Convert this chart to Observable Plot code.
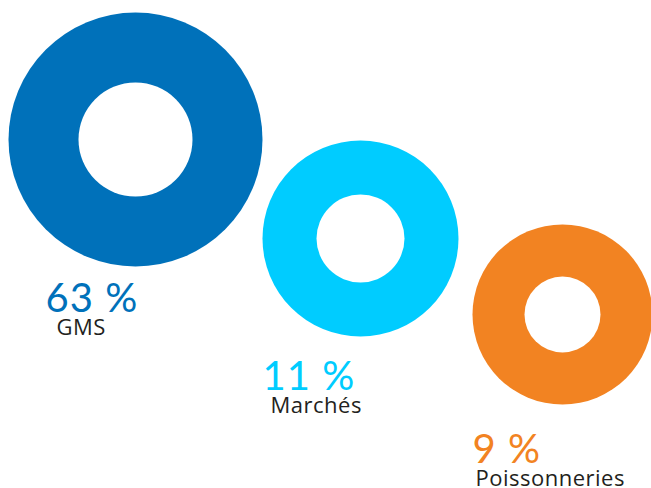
<!DOCTYPE html>
<html>
<head>
<meta charset="utf-8">
<script src="https://cdn.jsdelivr.net/npm/d3@7"></script>
<script src="https://cdn.jsdelivr.net/npm/@observablehq/plot@0.6"></script>
<style>
  html, body { margin: 0; padding: 0; background: #fff; }
  #chart { width: 651px; height: 488px; }
</style>
</head>
<body>
<div id="chart"></div>
<script>
// Data
const categories = ["GMS", "Marchés", "Poissonneries"];
const shares = [63, 11, 9];
const colors = ["#0071BA", "#00CCFF", "#F28322"];

// Layout (decorative donut placement, pixels)
const ringX = [135, 360, 562];
const ringY = [139, 238, 314];
const outerR = [127, 98, 90];
const innerR = [57, 44, 38];
const pctX = [45, 262, 472];
const pctY = [311, 389, 462];
const labX = [56, 270, 475];
const labY = [334, 412, 485];

const rows = categories.map((c, i) => ({
  category: c, share: shares[i], color: colors[i],
  cx: ringX[i], cy: ringY[i], ro: outerR[i], ri: innerR[i],
  px: pctX[i], py: pctY[i], lx: labX[i], ly: labY[i]
}));

const W = 651, H = 488;
const chart = Plot.plot({
  width: W, height: H,
  margin: 0,
  style: {background: "#fff", fontFamily: "Lato, 'Open Sans', sans-serif"},
  x: {type: "linear", domain: [0, W], range: [0, W], axis: null},
  y: {type: "linear", domain: [0, H], range: [0, H], axis: null},
  r: {type: "identity"},
  marks: [
    Plot.dot(rows, {x: "cx", y: "cy", r: "ro", fill: "color", stroke: null}),
    Plot.dot(rows, {x: "cx", y: "cy", r: "ri", fill: "#fff", stroke: null}),
    Plot.text(rows, {
      x: "px", y: "py", text: d => `${d.share} %`, fill: "color",
      textAnchor: "start", lineAnchor: "bottom",
      fontSize: 40, fontWeight: 400, fontFamily: "Lato"
    }),
    Plot.text(rows, {
      x: "lx", y: "ly", text: "category", fill: "#231F20",
      textAnchor: "start", lineAnchor: "bottom",
      fontSize: 22, fontWeight: 400, fontFamily: "'Open Sans'"
    })
  ]
});
// slight tracking to mimic the original geometric typeface
d3.select(chart).selectAll("g[aria-label='text']").each(function(_, i) {
  d3.select(this).style("letter-spacing", i === 0 ? "1px" : "0.5px");
});
document.getElementById("chart").appendChild(chart);
</script>
</body>
</html>
